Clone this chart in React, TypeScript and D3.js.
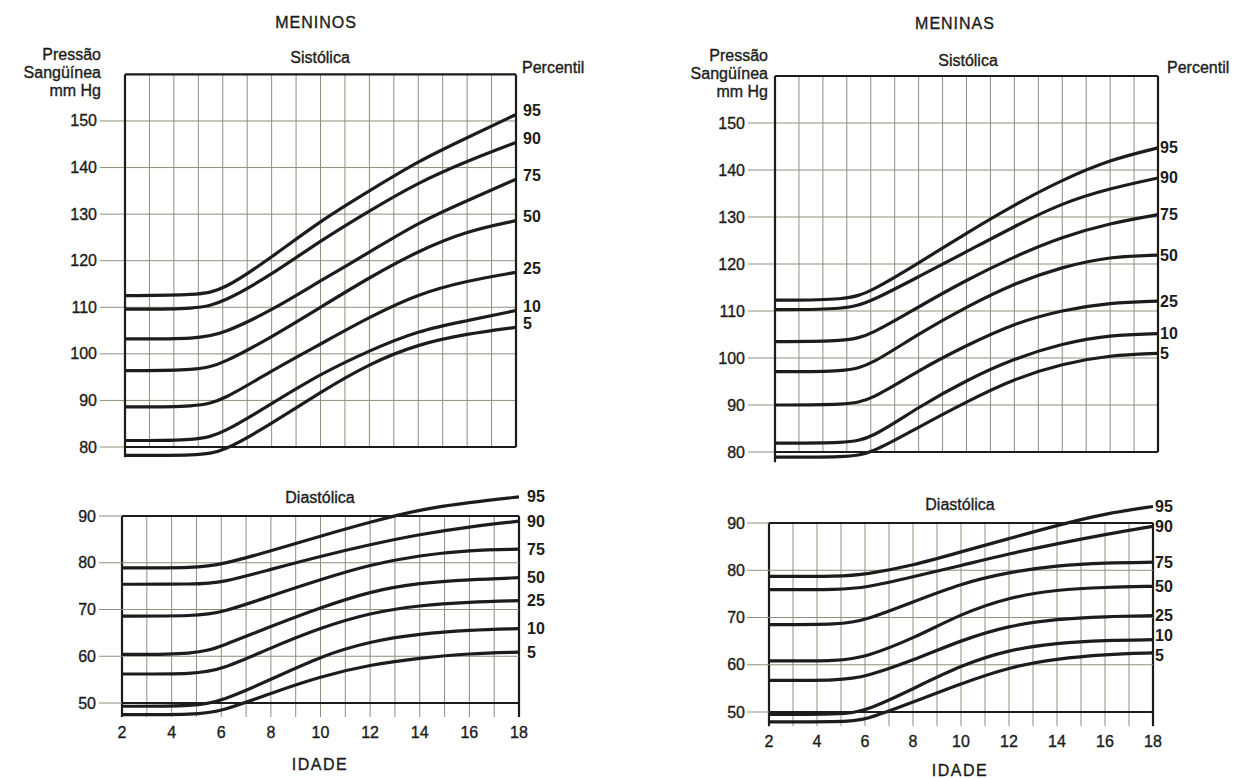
import { useEffect, useRef } from 'react'
import * as d3 from 'd3'

// idades (anos)
const ages = [2, 5, 6, 8, 10, 12, 14, 16, 18]
const percentiles = [95, 90, 75, 50, 25, 10, 5]
const sysTicks = [80, 90, 100, 110, 120, 130, 140, 150]
const diaTicks = [50, 60, 70, 80, 90]
const ageTicks = [2, 4, 6, 8, 10, 12, 14, 16, 18]

// Meninos - sistólica (uma linha por percentil, na ordem de `percentiles`)
const boysSys = [
  [112.5, 112.6, 113.6, 120.7, 128.6, 135, 141.4, 146.4, 151.4],
  [109.6, 109.6, 111, 117, 124.3, 130.7, 136.8, 141.4, 145.4],
  [103.2, 103.2, 104.3, 109.3, 115.7, 121.8, 128.2, 132.9, 137.5],
  [96.4, 96.4, 97.9, 103.6, 110, 116.4, 122.1, 126.4, 128.6],
  [88.6, 88.6, 90, 96.4, 102.1, 107.9, 112.9, 115.7, 117.5],
  [81.4, 81.4, 82.9, 89.3, 95.7, 100.7, 105, 107.1, 109.3],
  [78.2, 78.2, 78.9, 85, 91.8, 97.9, 102.1, 104.3, 105.7]
]

// Meninos - diastólica
const boysDia = [
  [78.9, 78.9, 79.6, 82.5, 85.7, 88.7, 91.4, 92.9, 94.1],
  [75.4, 75.4, 75.7, 78.6, 81.4, 83.9, 86.1, 87.7, 88.9],
  [68.6, 68.6, 69.3, 72.9, 76.4, 79.6, 81.6, 82.7, 82.9],
  [60.4, 60.4, 62.1, 66.4, 70.4, 73.9, 75.7, 76.4, 76.8],
  [56.2, 56.2, 57.1, 61.8, 66.1, 69.3, 70.9, 71.6, 71.9],
  [49.3, 49.3, 50.4, 55, 60, 63.2, 64.8, 65.6, 65.9],
  [47.5, 47.5, 48.2, 52.1, 55.7, 58.2, 59.6, 60.6, 60.9]
]

// Meninas - sistólica
const girlsSys = [
  [112.3, 112.3, 114.1, 120.2, 126.6, 132.6, 137.9, 142.2, 144.7],
  [110.3, 110.3, 112, 117.3, 122.6, 128, 133, 136.1, 138.3],
  [103.5, 103.5, 104.9, 110.9, 116.6, 121.6, 125.8, 128.7, 130.5],
  [97.1, 97.1, 98.5, 105.2, 110.9, 115.9, 119.4, 121.6, 121.9],
  [90, 90, 91, 97.4, 102.7, 107.4, 110.2, 111.8, 112.1],
  [81.9, 81.9, 82.8, 89.6, 95.3, 99.9, 103.1, 104.9, 105.2],
  [78.9, 78.9, 79.6, 85.3, 90.7, 95.6, 98.8, 100.6, 101]
]

// Meninas - diastólica
const girlsDia = [
  [78.7, 78.7, 79.1, 81, 83.9, 86.7, 89.5, 92, 93.5],
  [75.9, 75.9, 76.3, 78.6, 81, 83.5, 85.6, 87.6, 89.3],
  [68.5, 68.5, 69.4, 73.3, 77.2, 79.6, 81, 81.6, 81.7],
  [60.8, 60.8, 61.6, 65.5, 70.8, 74.3, 75.9, 76.4, 76.6],
  [56.7, 56.7, 57.4, 60.9, 65.2, 68.3, 69.7, 70.2, 70.4],
  [49.5, 49.5, 50.1, 54.9, 59.9, 63.2, 64.6, 65.2, 65.3],
  [47.9, 47.9, 48.2, 52.1, 56, 59.5, 61.3, 62.2, 62.5]
]

const FONT = "'Liberation Sans', Arial, sans-serif"
const INK = '#1c1c1c'
const GRID = '#8f8f7c'

interface PanelLayout {
  title: string
  titleX: number
  titleY: number
  unitX: number
  unitY: number[]
  sysTitleX: number
  sysTitleY: number
  pctX: number
  pctY: number
  sysX: [number, number]
  sysY: [number, number]
  tickLabelX: number
  tickLineX: number
  sysLabelDx: number
  sysLabelDy: number
  diaX: [number, number]
  diaY: [number, number]
  diaTitleX: number
  diaTitleY: number
  diaTickLabelX: number
  diaTickLineX: number
  diaLabelDx: number
  diaNudge: number[]
  ageLabelY: number
  idadeX: number
  idadeY: number
  sys: number[][]
  dia: number[][]
}

const boysLayout: PanelLayout = {
  title: 'MENINOS', titleX: 316, titleY: 22,
  unitX: 101, unitY: [54, 72, 90],
  sysTitleX: 320, sysTitleY: 57,
  pctX: 522, pctY: 67,
  sysX: [125, 516], sysY: [447, 74.4],
  tickLabelX: 97, tickLineX: 100,
  sysLabelDx: 7, sysLabelDy: -4,
  diaX: [122, 519], diaY: [703, 516],
  diaTitleX: 320, diaTitleY: 497,
  diaTickLabelX: 96, diaTickLineX: 99,
  diaLabelDx: 8,
  diaNudge: [0, 0, 0, 0, 0, 0, 0],
  ageLabelY: 732,
  idadeX: 320, idadeY: 764,
  sys: boysSys, dia: boysDia
}

const girlsLayout: PanelLayout = {
  title: 'MENINAS', titleX: 955, titleY: 23,
  unitX: 768, unitY: [55, 73, 91],
  sysTitleX: 968, sysTitleY: 60,
  pctX: 1167, pctY: 67,
  sysX: [775, 1158], sysY: [452, 76],
  tickLabelX: 745, tickLineX: 748,
  sysLabelDx: 2, sysLabelDy: 0,
  diaX: [769, 1153], diaY: [712, 523],
  diaTitleX: 960, diaTitleY: 504,
  diaTickLabelX: 745, diaTickLineX: 747,
  diaLabelDx: 2,
  diaNudge: [0, 0, 0, 0, 0, -4, 3],
  ageLabelY: 741,
  idadeX: 960, idadeY: 770,
  sys: girlsSys, dia: girlsDia
}

function text(g: d3.Selection<SVGGElement, unknown, null, undefined>, x: number, y: number, t: string, anchor = 'middle', size = 16, weight = 'normal', spacing = 0) {
  g.append('text')
    .attr('x', x)
    .attr('y', y)
    .attr('text-anchor', anchor)
    .attr('dominant-baseline', 'central')
    .attr('font-family', FONT)
    .attr('font-size', size)
    .attr('font-weight', weight)
    .attr('letter-spacing', spacing)
    .attr('fill', INK)
    .attr('stroke', INK)
    .attr('stroke-width', weight === 'bold' ? 0 : 0.35)
    .text(t)
}

function drawPanel(svg: d3.Selection<SVGSVGElement, unknown, null, undefined>, L: PanelLayout) {
  const g = svg.append('g')

  // títulos
  text(g, L.titleX, L.titleY, L.title, 'middle', 16, 'normal', 1)
  ;['Pressão', 'Sangüínea', 'mm Hg'].forEach((t, i) => text(g, L.unitX, L.unitY[i], t, 'end', 16))
  text(g, L.sysTitleX, L.sysTitleY, 'Sistólica', 'middle', 16)
  text(g, L.pctX, L.pctY, 'Percentil', 'start', 16)

  // ---- Sistólica ----
  const xs = d3.scaleLinear().domain([2, 18]).range(L.sysX)
  const ys = d3.scaleLinear().domain([80, 160]).range(L.sysY)

  const years = d3.range(2, 19)
  g.append('g').selectAll('line')
    .data(years.slice(1, -1))
    .enter().append('line')
    .attr('x1', d => xs(d)).attr('x2', d => xs(d))
    .attr('y1', ys(160)).attr('y2', ys(80))
    .attr('stroke', GRID).attr('stroke-width', 1)

  g.append('g').selectAll('line')
    .data(sysTicks.slice(1))
    .enter().append('line')
    .attr('x1', L.tickLineX).attr('x2', xs(18))
    .attr('y1', d => ys(d)).attr('y2', d => ys(d))
    .attr('stroke', GRID).attr('stroke-width', 1)

  g.append('line')
    .attr('x1', L.tickLineX).attr('x2', xs(2))
    .attr('y1', ys(80)).attr('y2', ys(80))
    .attr('stroke', GRID).attr('stroke-width', 1)

  sysTicks.forEach(t => text(g, L.tickLabelX, ys(t), String(t), 'end', 16))

  // moldura
  const frame = g.append('g').attr('stroke', INK).attr('stroke-width', 2.2).attr('fill', 'none')
  frame.append('line').attr('x1', xs(2)).attr('x2', xs(18)).attr('y1', ys(160)).attr('y2', ys(160))
  frame.append('line').attr('x1', xs(2)).attr('x2', xs(18)).attr('y1', ys(80)).attr('y2', ys(80))
  frame.append('line').attr('x1', xs(2)).attr('x2', xs(2)).attr('y1', ys(160)).attr('y2', ys(77.8))
  frame.append('line').attr('x1', xs(18)).attr('x2', xs(18)).attr('y1', ys(160)).attr('y2', ys(80))

  const sysLine = d3.line<number>()
    .x((_, i) => xs(ages[i]))
    .y(d => ys(d))
    .curve(d3.curveBasis)

  g.append('g').selectAll('path')
    .data(L.sys)
    .enter().append('path')
    .attr('d', d => sysLine(d))
    .attr('fill', 'none')
    .attr('stroke', INK)
    .attr('stroke-width', 3.2)

  L.sys.forEach((s, i) => text(g, xs(18) + L.sysLabelDx, ys(s[s.length - 1]) + L.sysLabelDy, String(percentiles[i]), 'start', 16, 'bold'))

  // ---- Diastólica ----
  const xd = d3.scaleLinear().domain([2, 18]).range(L.diaX)
  const yd = d3.scaleLinear().domain([50, 90]).range(L.diaY)

  text(g, L.diaTitleX, L.diaTitleY, 'Diastólica', 'middle', 16)

  g.append('g').selectAll('line')
    .data(years)
    .enter().append('line')
    .attr('x1', d => xd(d)).attr('x2', d => xd(d))
    .attr('y1', yd(90)).attr('y2', yd(47))
    .attr('stroke', d => (d === 2 || d === 18) ? INK : GRID)
    .attr('stroke-width', d => (d === 2 || d === 18) ? 2.2 : 1)

  g.append('g').selectAll('line')
    .data(diaTicks)
    .enter().append('line')
    .attr('x1', L.diaTickLineX).attr('x2', d => (d === 50 || d === 90) ? xd(2) : xd(18))
    .attr('y1', d => yd(d)).attr('y2', d => yd(d))
    .attr('stroke', GRID).attr('stroke-width', 1)

  const dframe = g.append('g').attr('stroke', INK).attr('stroke-width', 2.2)
  dframe.append('line').attr('x1', xd(2)).attr('x2', xd(18)).attr('y1', yd(90)).attr('y2', yd(90))
  dframe.append('line').attr('x1', xd(2)).attr('x2', xd(18)).attr('y1', yd(50)).attr('y2', yd(50))

  diaTicks.forEach(t => text(g, L.diaTickLabelX, yd(t), String(t), 'end', 16))
  ageTicks.forEach(t => text(g, xd(t), L.ageLabelY, String(t), 'middle', 16))
  text(g, L.idadeX, L.idadeY, 'IDADE', 'middle', 16, 'normal', 1.5)

  const diaLine = d3.line<number>()
    .x((_, i) => xd(ages[i]))
    .y(d => yd(d))
    .curve(d3.curveBasis)

  g.append('g').selectAll('path')
    .data(L.dia)
    .enter().append('path')
    .attr('d', d => diaLine(d))
    .attr('fill', 'none')
    .attr('stroke', INK)
    .attr('stroke-width', 3.2)

  L.dia.forEach((s, i) => text(g, xd(18) + L.diaLabelDx, yd(s[s.length - 1]) + L.diaNudge[i], String(percentiles[i]), 'start', 16, 'bold'))
}

export default function App() {
  const svgRef = useRef<SVGSVGElement>(null)

  useEffect(() => {
    if (!svgRef.current) return
    const svg = d3.select(svgRef.current)
    svg.selectAll('*').remove()
    svg.append('rect').attr('width', 1246).attr('height', 778).attr('fill', '#ffffff')
    drawPanel(svg, boysLayout)
    drawPanel(svg, girlsLayout)
  }, [])

  return (
    <svg
      ref={svgRef}
      width={1246}
      height={778}
      style={{ position: 'absolute', left: 0, top: 0, display: 'block' }}
    />
  )
}
